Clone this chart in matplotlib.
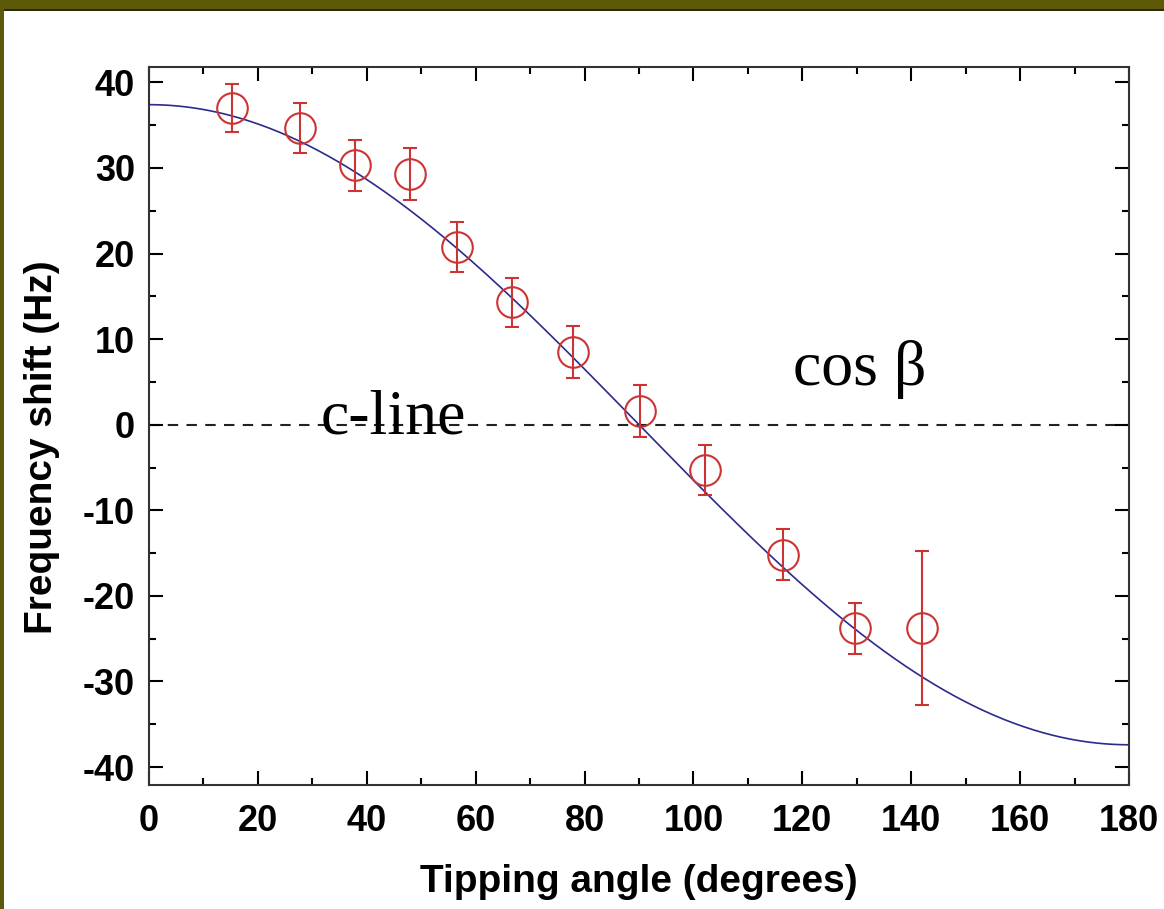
import numpy as np
import matplotlib.pyplot as plt
from matplotlib.patches import Rectangle
from matplotlib.ticker import MultipleLocator

# measured tipping angles (deg), frequency shifts (Hz) and their errors
angle = [15.2, 27.7, 37.8, 48.0, 56.6, 66.7, 77.9, 90.2, 102.1, 116.5, 129.7, 142.0]
shift = [37.0, 34.7, 30.3, 29.3, 20.8, 14.3, 8.5, 1.6, -5.3, -15.2, -23.8, -23.7]
err = [2.8, 2.9, 3.0, 3.0, 2.9, 2.9, 3.0, 3.0, 2.9, 3.0, 3.0, 9.0]

# cos(beta) fit amplitude
amp = 37.4

plt.rcParams['font.family'] = ['Liberation Sans', 'DejaVu Sans']
plt.rcParams['axes.unicode_minus'] = False

fig = plt.figure(figsize=(11.64, 9.09), dpi=100)
fig.patch.set_facecolor('white')

# olive frame along the top and left edge
fig.patches.append(Rectangle((0, 1 - 9/909), 1, 9/909, transform=fig.transFigure,
                             facecolor='#5c5a08', edgecolor='none', zorder=0))
fig.patches.append(Rectangle((0, 1 - 11/909), 1, 2/909, transform=fig.transFigure,
                             facecolor='#2a2a10', edgecolor='none', zorder=0))
fig.patches.append(Rectangle((0, 0), 4/1164, 1, transform=fig.transFigure,
                             facecolor='#5c5a08', edgecolor='none', zorder=0))

ax = fig.add_axes([149/1164, 124/909, 980/1164, 718/909])

beta = np.linspace(0, 180, 400)
ax.plot(beta, amp*np.cos(np.radians(beta)), color='#2b2b8c', lw=1.2, zorder=2)
ax.axhline(0, color='#222222', lw=1.5, ls=(0, (5, 4)), zorder=1)

ax.errorbar(angle, shift, yerr=err, fmt='o', ms=22, mfc='none', mec='#cc3333',
            mew=1.5, ecolor='#cc3333', elinewidth=1.5, capsize=5, capthick=1.5, zorder=3)

ax.set_xlim(0, 180)
ax.set_ylim(-42.1, 41.8)
ax.xaxis.set_major_locator(MultipleLocator(20))
ax.xaxis.set_minor_locator(MultipleLocator(10))
ax.yaxis.set_major_locator(MultipleLocator(10))
ax.yaxis.set_minor_locator(MultipleLocator(5))
ax.tick_params(which='both', direction='in', top=True, right=True, width=1.5)
ax.tick_params(which='major', length=10, labelsize=26)
ax.tick_params(which='minor', length=5)
ax.tick_params(axis='y', pad=10)
ax.tick_params(axis='x', pad=14)
for lab in ax.get_xticklabels() + ax.get_yticklabels():
    lab.set_fontweight('bold')
for s in ax.spines.values():
    s.set_linewidth(1.5)
    s.set_color('#333333')

ax.set_xlabel('Tipping angle (degrees)', fontsize=28, fontweight='bold', labelpad=18)
ax.set_ylabel('Frequency shift (Hz)', fontsize=28, fontweight='bold')
ax.yaxis.set_label_coords(-0.091, 0.471)

ax.text(31.5, -1.0, 'c-line', fontsize=46, family='Liberation Serif', va='baseline', zorder=4)
ax.text(118.2, 4.6, 'cos β', fontsize=46, family='Liberation Serif', va='baseline', zorder=4)

fig.savefig('out.png', dpi=100)
